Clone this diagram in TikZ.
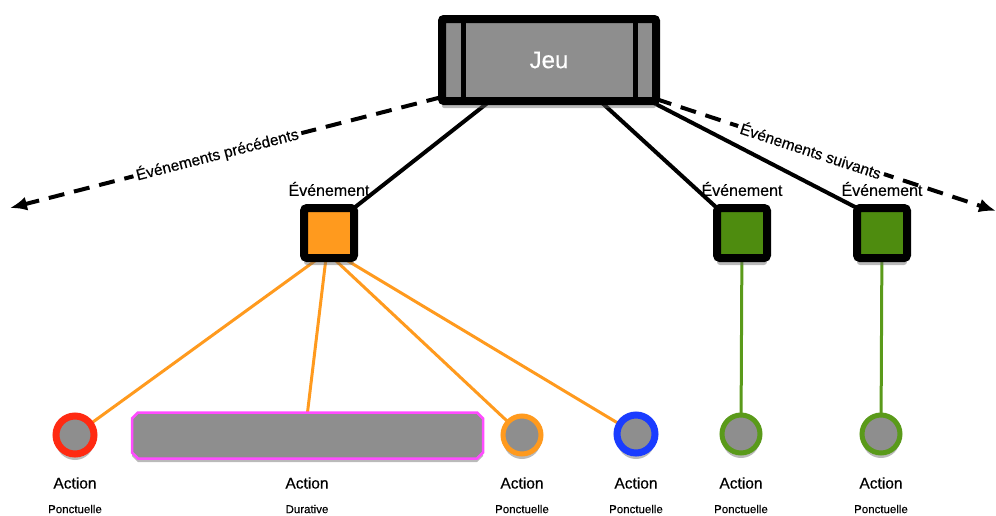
\documentclass[tikz,border=0pt]{standalone}
\usepackage{fontspec}
\setmainfont[FakeBold=0.4]{Liberation Sans}
\usetikzlibrary{arrows.meta,shapes.misc,shadows,backgrounds}
\definecolor{nodegray}{HTML}{8E8E8E}
\definecolor{evorange}{HTML}{FF9A1E}
\definecolor{evgreen}{HTML}{4E8C0F}
\definecolor{acgreen}{HTML}{5A9A1A}
\definecolor{acred}{HTML}{FF2A12}
\definecolor{acblue}{HTML}{1A3CFF}
\definecolor{acpink}{HTML}{FF4CFF}
\begin{document}
\begin{tikzpicture}[x=1pt,y=-1pt,
  shad/.style={drop shadow={shadow xshift=0pt,shadow yshift=-#1,fill=black!60,opacity=0.45}},
  jeubox/.style={draw=black,line width=8pt,fill=nodegray,minimum width=214pt,minimum height=82pt,
    outer sep=0pt,inner sep=0pt,rounded corners=2pt,shad=7pt,text=white,font=\fontsize{24}{28}\selectfont},
  evbox/.style={draw=black,line width=8pt,minimum size=50pt,outer sep=0pt,inner sep=0pt,rounded corners=3pt,shad=7pt},
  act/.style={circle,fill=nodegray,minimum size=38pt,inner sep=0pt,outer sep=0pt},
  evlabel/.style={font=\fontsize{16}{18}\selectfont,inner sep=0pt},
  actlabel/.style={font=\fontsize{15.5}{18}\selectfont,inner sep=0pt},
  sublabel/.style={font=\fontsize{11.5}{13}\selectfont,inner sep=0pt},
  conn/.style={line width=4pt,black},
  oconn/.style={line width=3pt,evorange},
  gconn/.style={line width=3pt,acgreen},
  timeline/.style={line width=4pt,dash pattern=on 16pt off 10pt,-{Latex[length=17pt,width=14pt]}},
  tlabel/.style={sloped,fill=white,inner sep=3pt,font=\fontsize{15.5}{18}\selectfont}
]
\useasboundingbox (0,0) rectangle (996,515);

% main box
\node[jeubox] (jeu) at (549,60) {\raisebox{-3pt}{Jeu}};
\draw[line width=5pt] ([xshift=21pt]jeu.north west) -- ([xshift=21pt]jeu.south west);
\draw[line width=5pt] ([xshift=-21pt]jeu.north east) -- ([xshift=-21pt]jeu.south east);

% events
\node[evbox,fill=evorange] (ev1) at (329,233) {};
\node[evbox,fill=evgreen] (ev2) at (742,233) {};
\node[evbox,fill=evgreen] (ev3) at (882,233) {};
\node[evlabel] (l1) at (329,189) {Événement};
\node[evlabel] (l2) at (742,189) {Événement};
\node[evlabel] (l3) at (882,189) {Événement};

% actions
\node[act,draw=acred,line width=7pt,shad=6pt] (a1) at (75,435) {};
\node[rectangle,minimum width=351pt,minimum height=46pt,inner sep=0pt,outer sep=0pt] (a2) at (307.5,435.5) {};
\filldraw[fill=nodegray,draw=acpink,line width=2.5pt,shad=3.5pt]
  ([xshift=6pt]a2.north west) -- ([xshift=-6pt]a2.north east) -- ([yshift=-6pt]a2.north east)
  -- ([yshift=6pt]a2.south east) -- ([xshift=-6pt]a2.south east) -- ([xshift=6pt]a2.south west)
  -- ([yshift=6pt]a2.south west) -- ([yshift=-6pt]a2.north west) -- cycle;
\node[act,draw=evorange,line width=5pt,shad=5pt] (a3) at (522,435) {};
\node[act,draw=acblue,line width=7pt,shad=6pt] (a4) at (636,434) {};
\node[act,draw=acgreen,line width=5pt,shad=5pt] (a5) at (741,434) {};
\node[act,draw=acgreen,line width=5pt,shad=5pt] (a6) at (881,434) {};

\node[actlabel] (t1) at (75,483) {Action};
\node[actlabel] (t2) at (307,483) {Action};
\node[actlabel] (t3) at (522,483) {Action};
\node[actlabel] (t4) at (636,483) {Action};
\node[actlabel] (t5) at (741,483) {Action};
\node[actlabel] (t6) at (881,483) {Action};
\node[sublabel] (s1) at (75,509) {Ponctuelle};
\node[sublabel] (s2) at (307,509) {Durative};
\node[sublabel] (s3) at (522,509) {Ponctuelle};
\node[sublabel] (s4) at (636,509) {Ponctuelle};
\node[sublabel] (s5) at (741,509) {Ponctuelle};
\node[sublabel] (s6) at (881,509) {Ponctuelle};

\coordinate (pl) at (10,208);
\coordinate (pr) at (996,211);

\begin{scope}[on background layer]
  \draw[conn] ([xshift=-59pt]jeu.south) -- (ev1.north east);
  \draw[conn] ([xshift=51pt]jeu.south) -- (ev2.north west);
  \draw[conn] ([xshift=-6pt]jeu.south east) -- (ev3.north west);
  \draw[oconn] ([xshift=-10pt]ev1.south) -- (a1);
  \draw[oconn] ([xshift=-3pt]ev1.south) -- (a2.north);
  \draw[oconn] ([xshift=4pt]ev1.south) -- (a3);
  \draw[oconn] ([xshift=14pt]ev1.south) -- (a4);
  \draw[gconn] (ev2) -- (a5);
  \draw[gconn] (ev3) -- (a6);
  \draw[timeline] ([yshift=4pt]jeu.south west) -- node[tlabel,pos=0.52] (lp) {Événements précédents} (pl);
  \draw[timeline] ([yshift=2pt]jeu.south east) -- node[tlabel,pos=0.456] (ls) {Événements suivants} (pr);
\end{scope}
\end{tikzpicture}
\end{document}
